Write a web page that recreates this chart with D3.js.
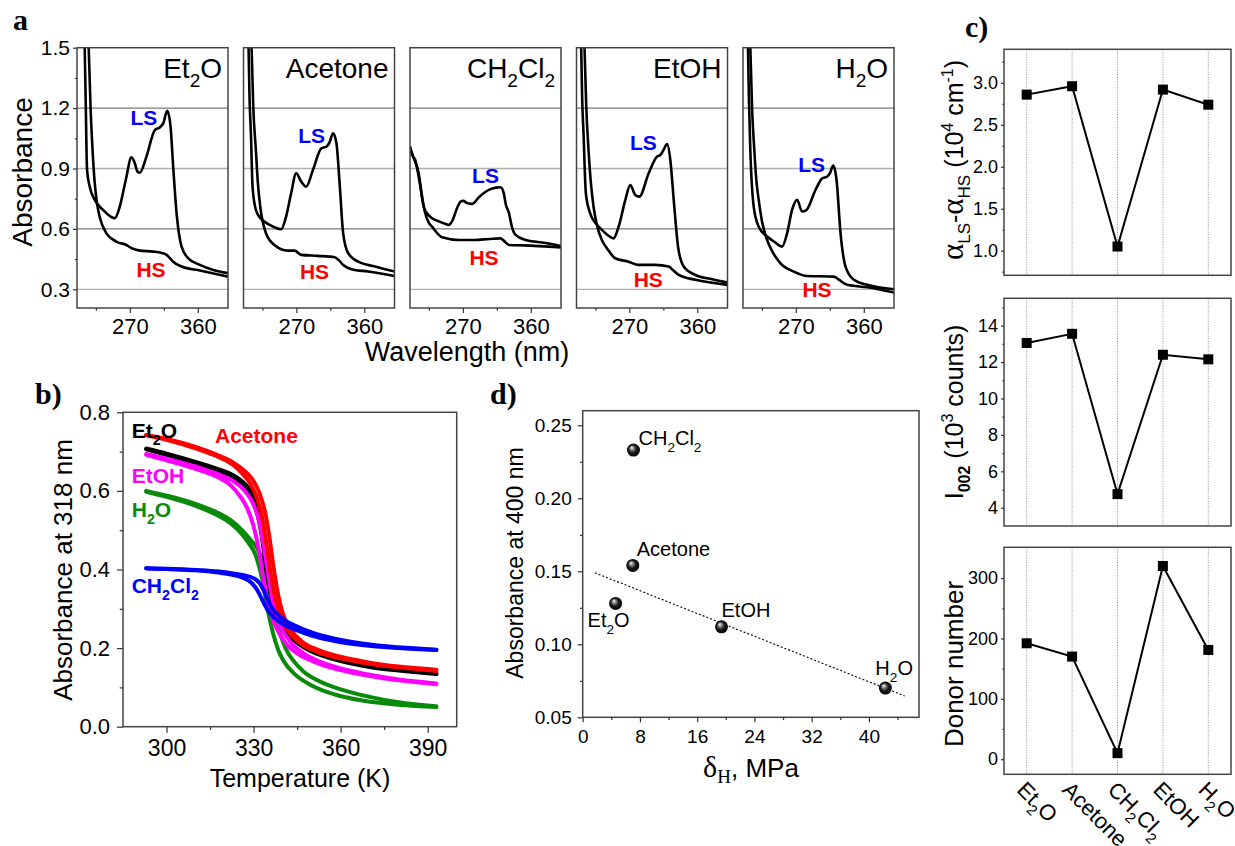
<!DOCTYPE html>
<html>
<head>
<meta charset="utf-8">
<script src="https://cdn.jsdelivr.net/npm/d3@7"></script>
<style>
body { margin: 0; background: #fff; }
svg text { font-family: "Liberation Sans", Arial, sans-serif; fill: #000; }
</style>
</head>
<body>
<div id="main"></div>
<script>

// ---------- data ----------

// panel a : UV-vis spectra, [wavelength nm, absorbance]
var solvents = ["Et{_2}O", "Acetone", "CH{_2}Cl{_2}", "EtOH", "H{_2}O"];

var specLS = [
	[[210.2,1.5],[211.5,1.24],[213.3,0.893],[216.8,0.81],[223.5,0.744],[234.5,0.694],[245,0.66],[250,0.653],[256.6,0.71],[264.6,0.843],[272.1,0.955],[276.6,0.926],[280,0.885],[283.2,0.879],[292,0.959],[303.1,1.091],[309.7,1.104],[314.2,1.124],[319.5,1.186],[323.9,1.108],[327.4,0.909],[331.9,0.677],[338.5,0.512],[347.4,0.454],[362.8,0.421],[380.5,0.396],[400,0.38]],
	[[206.7,1.5],[208,1.25],[209.8,1.075],[212,0.81],[216.4,0.694],[222,0.655],[227.6,0.636],[240,0.61],[249.8,0.598],[256.4,0.661],[263.1,0.777],[269.8,0.876],[276.4,0.835],[283.1,0.81],[292,0.893],[303.1,1.0],[309.8,1.008],[314,1.03],[318.7,1.075],[323.1,1.025],[327.6,0.81],[332,0.578],[338.7,0.479],[352,0.437],[374.2,0.413],[400,0.388]],
	[[200,1.01],[204,0.96],[207,0.942],[210,0.89],[213.7,0.81],[218.1,0.71],[222,0.68],[229.2,0.653],[240,0.635],[251.3,0.62],[256,0.64],[262,0.7],[267,0.735],[270.4,0.739],[276,0.728],[282.3,0.724],[292,0.76],[305,0.795],[314,0.805],[319.9,0.807],[324,0.78],[327,0.72],[331,0.68],[335,0.61],[339.8,0.57],[353,0.545],[375,0.532],[400,0.515]],
	[[206.2,1.5],[207.5,1.25],[209.3,1.075],[212.4,0.777],[218.1,0.677],[225,0.63],[233.6,0.595],[241,0.57],[249.1,0.553],[255.8,0.611],[264.6,0.743],[271.2,0.818],[277.9,0.768],[283.2,0.76],[295.6,0.876],[306.6,0.959],[311.1,0.967],[315,0.99],[319.9,1.022],[324.3,0.942],[328.8,0.743],[334.5,0.512],[342,0.413],[357.5,0.371],[380,0.35],[400,0.333]],
	[[206.6,1.5],[207.8,1.25],[209.7,0.992],[214.2,0.71],[220.8,0.611],[231.9,0.562],[242,0.535],[251.8,0.512],[258.4,0.578],[265,0.694],[271.7,0.744],[278.3,0.686],[284.1,0.694],[296,0.793],[304.9,0.851],[311.5,0.86],[315.5,0.88],[319.5,0.914],[323.9,0.843],[329.2,0.578],[335.8,0.413],[346.9,0.347],[364.6,0.322],[400,0.3]]
];

var specHS = [
	[[215.5,1.5],[218,1.2],[220.5,1.0],[223,0.85],[226,0.74],[230,0.66],[239,0.578],[252,0.537],[265.5,0.52],[272.1,0.504],[283.2,0.492],[301,0.487],[312,0.48],[318.6,0.471],[323,0.455],[327.4,0.437],[338.5,0.413],[362.8,0.393],[400,0.363]],
	[[210.7,1.5],[213,1.2],[216.4,0.992],[219,0.83],[222.2,0.71],[229.8,0.578],[240.9,0.52],[258.7,0.492],[267.6,0.492],[276.4,0.471],[298.7,0.466],[320.9,0.459],[326,0.445],[332,0.421],[343.1,0.4],[365.3,0.388],[400,0.366]],
	[[200,1.0],[205,0.95],[211.5,0.876],[216,0.76],[220,0.68],[225,0.63],[229.2,0.611],[242.5,0.558],[264.6,0.545],[285,0.545],[305,0.55],[320,0.553],[326,0.535],[331,0.52],[350,0.518],[400,0.508]],
	[[210.6,1.5],[213,1.2],[215.9,0.992],[219,0.83],[222.6,0.71],[227,0.62],[233.6,0.545],[241,0.5],[251.3,0.454],[268.9,0.437],[282.3,0.421],[304.4,0.421],[322.1,0.413],[328,0.395],[335.4,0.371],[357.5,0.347],[400,0.322]],
	[[209.7,1.5],[212,1.2],[215,0.992],[217.5,0.85],[220.8,0.744],[225,0.64],[231.9,0.545],[240,0.48],[249.6,0.429],[267.3,0.388],[285,0.366],[320.4,0.363],[328,0.345],[338,0.322],[364.6,0.31],[400,0.284]]
];

// where the LS / HS tags sit, [wavelength, absorbance]
var lsTag = [[288.7,1.116],[290.2,1.028],[300,0.826],[288.5,0.99],[291,0.884]];
var hsTag = [[298,0.361],[294,0.35],[298,0.42],[295,0.31],[298,0.264]];

var aGrid = [0.3, 0.6, 0.9, 1.2];

// panel b : absorbance at 318 nm vs T, [K, absorbance]
var etherCool   = [[293,0.706],[300,0.692],[310,0.67],[318,0.65],[323,0.632],[326,0.612],[329,0.585],[331,0.55],[332.7,0.49],[334.2,0.41],[335.7,0.343],[337.3,0.295],[339.5,0.258],[343,0.226],[347,0.203],[352,0.185],[360,0.167],[370,0.152],[380,0.143],[393,0.134]];
var etherHeat   = [[293,0.708],[300,0.695],[310,0.674],[318,0.655],[323,0.64],[327,0.618],[330,0.59],[332,0.555],[333.5,0.5],[335,0.42],[336.5,0.35],[338,0.3],[340,0.263],[343,0.232],[347,0.207],[352,0.188],[360,0.17],[370,0.155],[380,0.145],[393,0.136]];
var acetoneCool = [[293,0.742],[300,0.73],[310,0.708],[318,0.686],[323,0.666],[326,0.645],[329,0.617],[331,0.585],[333,0.53],[334.5,0.46],[336,0.385],[337.5,0.325],[339,0.285],[342,0.243],[346,0.213],[352,0.19],[360,0.174],[370,0.16],[380,0.151],[393,0.142]];
var acetoneHeat = [[293,0.742],[300,0.732],[310,0.712],[318,0.69],[323,0.672],[327,0.65],[330,0.625],[332,0.595],[334,0.545],[335.5,0.48],[337,0.4],[338.5,0.335],[340,0.29],[343,0.245],[347,0.215],[352,0.196],[360,0.178],[370,0.163],[380,0.153],[393,0.145]];
var ethanolCool = [[293,0.692],[300,0.678],[310,0.656],[318,0.634],[322,0.615],[325,0.59],[328,0.553],[330,0.51],[331.8,0.45],[333.3,0.38],[335,0.315],[336.8,0.27],[339,0.235],[342,0.205],[346,0.182],[352,0.162],[360,0.144],[370,0.129],[380,0.118],[393,0.108]];
var ethanolHeat = [[293,0.694],[300,0.682],[310,0.662],[318,0.642],[323,0.625],[327,0.6],[330,0.565],[332,0.52],[333.5,0.46],[335,0.39],[336.5,0.325],[338,0.28],[340,0.245],[343,0.213],[347,0.188],[352,0.168],[360,0.148],[370,0.132],[380,0.12],[393,0.11]];
var waterCool   = [[293,0.598],[300,0.585],[310,0.562],[318,0.536],[322,0.518],[326,0.49],[328.5,0.465],[330.5,0.44],[332,0.405],[333.4,0.36],[334.8,0.3],[336.8,0.235],[338.5,0.195],[340.3,0.168],[344,0.135],[350,0.105],[358,0.082],[368,0.066],[380,0.056],[393,0.05]];
var waterHeat   = [[293,0.6],[300,0.588],[310,0.567],[318,0.543],[322,0.526],[326,0.5],[329,0.475],[331.5,0.45],[333.5,0.41],[335,0.36],[336.7,0.3],[339,0.24],[341,0.2],[343.7,0.168],[347,0.142],[352,0.118],[360,0.095],[370,0.076],[380,0.062],[393,0.052]];
var dcmCool     = [[293,0.403],[300,0.401],[310,0.398],[318,0.392],[323,0.386],[326,0.38],[328.5,0.371],[330.5,0.356],[332,0.338],[333.5,0.315],[335,0.295],[337,0.278],[340,0.262],[345,0.245],[350,0.232],[358,0.218],[368,0.207],[380,0.2],[393,0.195]];
var dcmHeat     = [[293,0.403],[300,0.402],[310,0.399],[318,0.395],[323,0.39],[327,0.385],[330,0.378],[332,0.366],[333.5,0.347],[335,0.32],[336.5,0.3],[338.5,0.284],[341,0.27],[345,0.255],[350,0.24],[358,0.224],[368,0.211],[380,0.202],[393,0.196]];

// panel c : per solvent (same order as solvents)
var cAlpha = [2.86, 2.96, 1.05, 2.92, 2.74];
var cI002  = [13.05, 13.55, 4.75, 12.4, 12.15];
var cDonor = [192, 170, 10, 320, 181];

// panel d : absorbance at 400 nm vs delta H
var dDeltaH = [4.6, 7.0, 7.1, 19.4, 42.3];
var dAbs    = [0.128, 0.154, 0.233, 0.112, 0.070];
var dFitX   = [1.7, 45];
var dFitY   = [0.149, 0.0646];


// ---------- helpers ----------

var W = 1235, H = 846;
var svg = d3.select("#main").append("svg")
	.attr("width", W)
	.attr("height", H);

var defs = svg.append("defs");

// text with {_x} subscripts and {^x} superscripts
function rich(t, str, fs) {
	var parts = str.split(/(\{[_^][^}]*\})/).filter(function(s) { return s.length; });
	var shift = 0;
	parts.forEach(function(p) {
		var m = p.match(/^\{([_^])(.*)\}$/);
		var ts = t.append("tspan");
		if (m) {
			var d = m[1] == "_" ? fs * 0.32 : -fs * 0.42;
			ts.attr("dy", d - shift).attr("font-size", fs * 0.68).text(m[2]);
			shift = d;
		} else {
			ts.attr("dy", -shift).text(p);
			shift = 0;
		}
	});
	return t;
}

function frame(g, x, y, w, h) {
	g.append("rect")
		.attr("x", x).attr("y", y)
		.attr("width", w).attr("height", h)
		.attr("fill", "none")
		.attr("stroke", "#444")
		.attr("stroke-width", 1.5);
}

function ticks(g, orient, scale, major, minor, fmt, fs, len, pad) {
	var mk = orient == "left" ? d3.axisLeft : d3.axisBottom;
	var a = g.append("g").call(mk(scale).tickValues(major).tickFormat(fmt).tickSize(len).tickPadding(pad));
	a.select(".domain").remove();
	a.selectAll("text").attr("font-size", fs);
	var m = g.append("g").call(mk(scale).tickValues(minor).tickFormat("").tickSize(len * 0.55));
	m.select(".domain").remove();
	g.selectAll(".tick line").attr("stroke", "#333").attr("stroke-width", 1.2);
	return a;
}

function letter(x, y, s) {
	svg.append("text")
		.attr("x", x).attr("y", y)
		.style("font-family", "'Liberation Serif', 'Times New Roman', serif")
		.attr("font-weight", "bold")
		.attr("font-size", 30)
		.text(s);
}


// ---------- panel a ----------

var aTop = 47.7, aBot = 308, aW = 151, aStep = 166.5, aLeft0 = 77;
var ya = d3.scaleLinear().domain([0.207, 1.5]).range([aBot, aTop]);
var xa = d3.scaleLinear().domain([200, 400]).range([0, aW]);
var lineA = d3.line()
	.x(function(d) { return xa(d[0]); })
	.y(function(d) { return ya(d[1]); })
	.curve(d3.curveMonotoneX);

defs.append("clipPath").attr("id", "clipA")
	.append("rect").attr("x", 0).attr("y", aTop).attr("width", aW).attr("height", aBot - aTop);

solvents.forEach(function(s, i) {
	var g = svg.append("g").attr("transform", "translate(" + (aLeft0 + i * aStep) + ",0)");

	aGrid.forEach(function(v, k) {
		g.append("line")
			.attr("x1", 0).attr("x2", aW)
			.attr("y1", ya(v)).attr("y2", ya(v))
			.attr("stroke", k % 2 ? "#7a7a7a" : "#b0b0b0")
			.attr("stroke-width", 1.3);
	});

	var c = g.append("g").attr("clip-path", "url(#clipA)");
	[specHS[i], specLS[i]].forEach(function(d) {
		c.append("path")
			.attr("d", lineA(d))
			.attr("fill", "none")
			.attr("stroke", "#000")
			.attr("stroke-width", 2.6);
	});

	frame(g, 0, aTop, aW, aBot - aTop);

	rich(g.append("text")
		.attr("x", aW - 6).attr("y", 78)
		.attr("text-anchor", "end")
		.attr("font-size", 28), s, 28);

	g.append("text")
		.attr("x", xa(lsTag[i][0])).attr("y", ya(lsTag[i][1]))
		.attr("text-anchor", "middle")
		.attr("font-weight", "bold").attr("font-size", 21)
		.style("fill", "#0000ff")
		.text("LS");
	g.append("text")
		.attr("x", xa(hsTag[i][0])).attr("y", ya(hsTag[i][1]))
		.attr("text-anchor", "middle")
		.attr("font-weight", "bold").attr("font-size", 21)
		.style("fill", "#ff0000")
		.text("HS");

	ticks(g.append("g").attr("transform", "translate(0," + aBot + ")"),
		"bottom", xa, [270, 360], [225, 315], d3.format("d"), 22, 5, 5);

	if (i == 0) {
		ticks(g.append("g"), "left", ya, [0.3, 0.6, 0.9, 1.2, 1.5], [0.45, 0.75, 1.05, 1.35],
			d3.format(".1f"), 21, 4, 3);
	}
});

svg.append("text")
	.attr("transform", "translate(32,172) rotate(-90)")
	.attr("text-anchor", "middle")
	.attr("font-size", 28)
	.text("Absorbance");

svg.append("text")
	.attr("x", 467).attr("y", 361)
	.attr("text-anchor", "middle")
	.attr("font-size", 27)
	.text("Wavelength (nm)");

letter(13, 30, "a");


// ---------- panel b ----------

var bL = 123, bR = 456.7, bT = 412.3, bB = 726.7;
var xb = d3.scaleLinear().domain([285, 400]).range([bL, bR]);
var yb = d3.scaleLinear().domain([0, 0.8]).range([bB, bT]);
var lineB = d3.line()
	.x(function(d) { return xb(d[0]); })
	.y(function(d) { return yb(d[1]); })
	.curve(d3.curveMonotoneX);

var bSeries = [
	{ cool: waterCool,   heat: waterHeat,   color: "#0a8a0a", name: "H{_2}O",       tx: 288, ty: 0.534 },
	{ cool: etherCool,   heat: etherHeat,   color: "#000000", name: "Et{_2}O",      tx: 288, ty: 0.735 },
	{ cool: ethanolCool, heat: ethanolHeat, color: "#ff00ff", name: "EtOH",         tx: 288, ty: 0.62 },
	{ cool: acetoneCool, heat: acetoneHeat, color: "#ff0000", name: "Acetone",      tx: 316.7, ty: 0.722 },
	{ cool: dcmCool,     heat: dcmHeat,     color: "#0000ff", name: "CH{_2}Cl{_2}", tx: 288, ty: 0.34 }
];

var gb = svg.append("g");
bSeries.forEach(function(s) {
	[s.cool, s.heat].forEach(function(d) {
		gb.append("path")
			.attr("d", lineB(d))
			.attr("fill", "none")
			.attr("stroke", s.color)
			.attr("stroke-width", 4)
			.attr("stroke-linecap", "round");
	});
});
bSeries.forEach(function(s) {
	rich(gb.append("text")
		.attr("x", xb(s.tx)).attr("y", yb(s.ty))
		.attr("font-weight", "bold").attr("font-size", 21)
		.style("fill", s.color), s.name, 21);
});

frame(svg, bL, bT, bR - bL, bB - bT);
ticks(svg.append("g").attr("transform", "translate(" + bL + ",0)"),
	"left", yb, [0, 0.2, 0.4, 0.6, 0.8], [0.1, 0.3, 0.5, 0.7], d3.format(".1f"), 22, 6, 7);
ticks(svg.append("g").attr("transform", "translate(0," + bB + ")"),
	"bottom", xb, [300, 330, 360, 390], [315, 345, 375], d3.format("d"), 23, 6, 7);

svg.append("text")
	.attr("transform", "translate(72,570) rotate(-90)")
	.attr("text-anchor", "middle")
	.attr("font-size", 26)
	.text("Absorbance at 318 nm");
svg.append("text")
	.attr("x", 300).attr("y", 787)
	.attr("text-anchor", "middle")
	.attr("font-size", 25)
	.text("Temperature (K)");

letter(35, 404, "b)");


// ---------- panel d ----------

var dL = 582.7, dR = 919, dT = 410.7, dB = 717.3;
var xd = d3.scaleLinear().domain([0, 47]).range([dL, dR]);
var yd = d3.scaleLinear().domain([0.05, 0.26]).range([dB, dT]);

var ball = defs.append("radialGradient").attr("id", "ball")
	.attr("cx", "50%").attr("cy", "50%").attr("r", "55%")
	.attr("fx", "35%").attr("fy", "30%");
ball.append("stop").attr("offset", "0").attr("stop-color", "#ffffff");
ball.append("stop").attr("offset", "0.22").attr("stop-color", "#9a9a9a");
ball.append("stop").attr("offset", "0.55").attr("stop-color", "#1a1a1a");
ball.append("stop").attr("offset", "1").attr("stop-color", "#000000");

svg.append("line")
	.attr("x1", xd(dFitX[0])).attr("y1", yd(dFitY[0]))
	.attr("x2", xd(dFitX[1])).attr("y2", yd(dFitY[1]))
	.attr("stroke", "#000")
	.attr("stroke-width", 1.1)
	.attr("stroke-dasharray", "2,2");

var dOrder = ["Et{_2}O", "Acetone", "CH{_2}Cl{_2}", "EtOH", "H{_2}O"];
var dOff = [[-28, 24], [4, -9], [5, -5], [0, -10], [-10, -13]];

dDeltaH.forEach(function(v, i) {
	svg.append("circle")
		.attr("cx", xd(v)).attr("cy", yd(dAbs[i]))
		.attr("r", 6.5)
		.attr("fill", "url(#ball)");
	rich(svg.append("text")
		.attr("x", xd(v) + dOff[i][0]).attr("y", yd(dAbs[i]) + dOff[i][1])
		.attr("font-size", 20), dOrder[i], 20);
});

frame(svg, dL, dT, dR - dL, dB - dT);
ticks(svg.append("g").attr("transform", "translate(" + dL + ",0)"),
	"left", yd, [0.05, 0.1, 0.15, 0.2, 0.25], [0.075, 0.125, 0.175, 0.225], d3.format(".2f"), 19, 5, 6);
ticks(svg.append("g").attr("transform", "translate(0," + dB + ")"),
	"bottom", xd, [0, 8, 16, 24, 32, 40], [4, 12, 20, 28, 36, 44], d3.format("d"), 19, 5, 7);

svg.append("text")
	.attr("transform", "translate(523,563) rotate(-90)")
	.attr("text-anchor", "middle")
	.attr("font-size", 23)
	.text("Absorbance at 400 nm");

var dx = svg.append("text")
	.attr("x", 751).attr("y", 777)
	.attr("text-anchor", "middle")
	.attr("font-size", 26);
dx.append("tspan").style("font-family", "'Liberation Serif', serif").attr("font-size", 30).text("δ");
dx.append("tspan").style("font-family", "'Liberation Serif', serif").attr("font-size", 19).attr("dy", 6).text("H");
dx.append("tspan").attr("dy", -6).text(", MPa");

letter(490, 404, "d)");


// ---------- panel c ----------

var cL = 1004, cR = 1231;
var xc = d3.scaleLinear().domain([-0.5, 4.5]).range([cL, cR]);
var idx = d3.range(solvents.length);

var cPanels = [
	{ vals: cAlpha, top: 49.3,  bot: 275.3, dom: [0.707, 3.4], major: [1, 1.5, 2, 2.5, 3], minor: [0.75, 1.25, 1.75, 2.25, 2.75, 3.25], fmt: d3.format(".1f") },
	{ vals: cI002,  top: 298.3, bot: 526,   dom: [3, 15.5],    major: [4, 6, 8, 10, 12, 14], minor: [5, 7, 9, 11, 13, 15], fmt: d3.format("d") },
	{ vals: cDonor, top: 547.3, bot: 774.3, dom: [-25, 351],   major: [0, 100, 200, 300], minor: [50, 150, 250], fmt: d3.format("d") }
];

cPanels.forEach(function(p) {
	var y = d3.scaleLinear().domain(p.dom).range([p.bot, p.top]);
	var g = svg.append("g");

	idx.forEach(function(i) {
		g.append("line")
			.attr("x1", xc(i)).attr("x2", xc(i))
			.attr("y1", p.top).attr("y2", p.bot)
			.attr("stroke", "#8c8c8c")
			.attr("stroke-width", 1)
			.attr("stroke-dasharray", "1,1.5");
	});

	g.append("path")
		.attr("d", d3.line().x(function(i) { return xc(i); }).y(function(i) { return y(p.vals[i]); })(idx))
		.attr("fill", "none")
		.attr("stroke", "#000")
		.attr("stroke-width", 2);

	g.selectAll("rect.pt").data(idx).enter().append("rect")
		.attr("class", "pt")
		.attr("x", function(i) { return xc(i) - 5; })
		.attr("y", function(i) { return y(p.vals[i]) - 5; })
		.attr("width", 10).attr("height", 10)
		.attr("fill", "#000");

	frame(g, cL, p.top, cR - cL, p.bot - p.top);
	ticks(g.append("g").attr("transform", "translate(" + cL + ",0)"),
		"left", y, p.major, p.minor, p.fmt, 18, 3, 3);
});

// y titles of panel c
var t1 = svg.append("text")
	.attr("transform", "translate(963,160) rotate(-90)")
	.attr("text-anchor", "middle")
	.attr("font-size", 25);
t1.append("tspan").style("font-family", "'Liberation Serif', serif").attr("font-size", 31).text("α");
t1.append("tspan").attr("font-size", 17).attr("dy", 7).text("LS");
t1.append("tspan").attr("dy", -7).text("-");
t1.append("tspan").style("font-family", "'Liberation Serif', serif").attr("font-size", 31).text("α");
t1.append("tspan").attr("font-size", 17).attr("dy", 7).text("HS");
t1.append("tspan").attr("dy", -7).text(" (10");
t1.append("tspan").attr("font-size", 16).attr("dy", -10).text("4");
t1.append("tspan").attr("dy", 10).text(" cm");
t1.append("tspan").attr("font-size", 16).attr("dy", -10).text("-1");
t1.append("tspan").attr("dy", 10).text(")");

var t2 = svg.append("text")
	.attr("transform", "translate(963,412) rotate(-90)")
	.attr("text-anchor", "middle")
	.attr("font-size", 25);
t2.append("tspan").text("I");
t2.append("tspan").attr("font-size", 16).attr("font-weight", "bold").attr("dy", 7).text("002");
t2.append("tspan").attr("dy", -7).text(" (10");
t2.append("tspan").attr("font-size", 16).attr("dy", -10).text("3");
t2.append("tspan").attr("dy", 10).text(" counts)");

svg.append("text")
	.attr("transform", "translate(963,664) rotate(-90)")
	.attr("text-anchor", "middle")
	.attr("font-size", 26)
	.text("Donor number");

solvents.forEach(function(s, i) {
	rich(svg.append("text")
		.attr("transform", "translate(" + (xc(i) - 11) + ",791) rotate(45)")
		.attr("font-size", 22), s, 22);
});

letter(965, 37, "c)");

</script>
</body>
</html>
